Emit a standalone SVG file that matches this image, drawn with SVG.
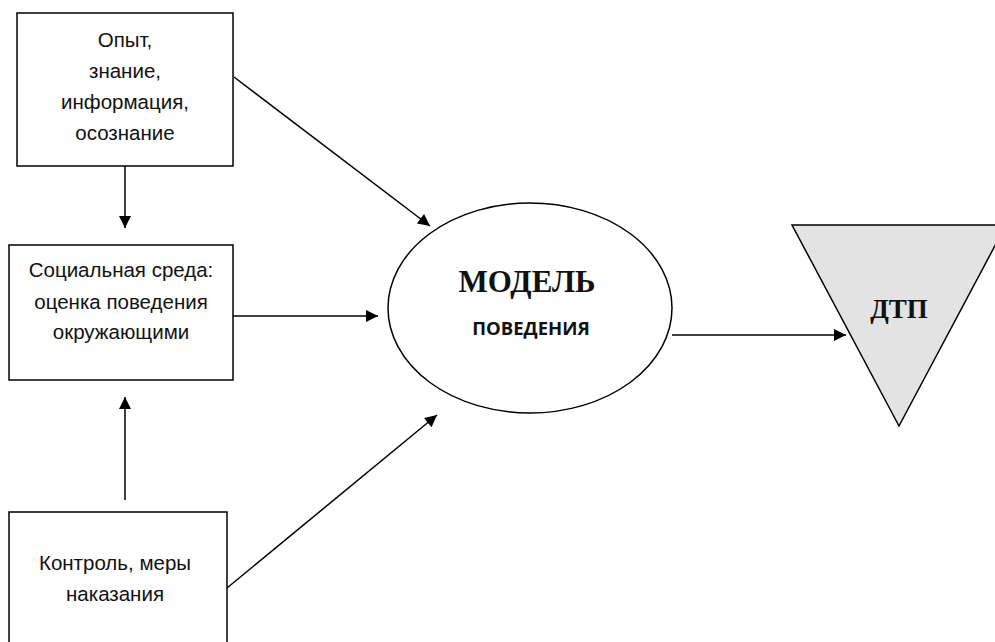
<svg xmlns="http://www.w3.org/2000/svg" width="995" height="642" viewBox="0 0 995 642">
<defs>
<style>
.box{fill:#fff;stroke:#000;stroke-width:1.5}
.t{font-family:"Liberation Sans",Arial,sans-serif;font-size:20.5px;fill:#111;text-anchor:middle}
.c{stroke:#000;stroke-width:1.5;fill:none;marker-end:url(#ah)}
.s{font-family:"Liberation Serif","Times New Roman",serif;font-weight:bold;fill:#111;text-anchor:middle}
</style>
<marker id="ah" viewBox="0 0 10 10" refX="10" refY="5" markerWidth="13" markerHeight="12" markerUnits="userSpaceOnUse" orient="auto"><path d="M0,0 L10,5 L0,10 z" fill="#000"/></marker>
</defs>
<rect width="995" height="642" fill="#fff"/>
<g id="connectors">
<line class="c" x1="125" y1="166" x2="125" y2="228"/>
<line class="c" x1="125" y1="500" x2="125" y2="397"/>
<line class="c" x1="233" y1="316" x2="378" y2="316"/>
<line class="c" x1="234" y1="77" x2="430" y2="226"/>
<line class="c" x1="227" y1="588" x2="437" y2="415"/>
<line class="c" x1="672" y1="335" x2="846" y2="335"/>
</g>
<g id="n1">
<rect class="box" x="17" y="13" width="216" height="153"/>
<text class="t" x="125" y="47">Опыт,</text>
<text class="t" x="125" y="78">знание,</text>
<text class="t" x="125" y="109">информация,</text>
<text class="t" x="125" y="140">осознание</text>
</g>
<g id="n2">
<rect class="box" x="9" y="245" width="224" height="135"/>
<text class="t" x="121" y="277">Социальная среда:</text>
<text class="t" x="121" y="309">оценка поведения</text>
<text class="t" x="121" y="339">окружающими</text>
</g>
<g id="n3">
<rect class="box" x="9" y="512" width="218" height="140"/>
<text class="t" x="115" y="570">Контроль, меры</text>
<text class="t" x="115" y="601">наказания</text>
</g>
<g id="n4">
<ellipse cx="530" cy="308" rx="142" ry="105" fill="#fff" stroke="#000" stroke-width="1.5"/>
<text class="s" x="527" y="292" font-size="31">МОДЕЛЬ</text>
<text x="531" y="335" font-family="'Open Sans','Liberation Sans',sans-serif" font-weight="bold" font-size="18.5" fill="#111" text-anchor="middle">ПОВЕДЕНИЯ</text>
</g>
<g id="n5">
<polygon points="792,225 1006,225 899,426" fill="#e3e3e3" stroke="#000" stroke-width="1.5"/>
<text class="s" x="899" y="318" font-size="27">ДТП</text>
</g>
</svg>
